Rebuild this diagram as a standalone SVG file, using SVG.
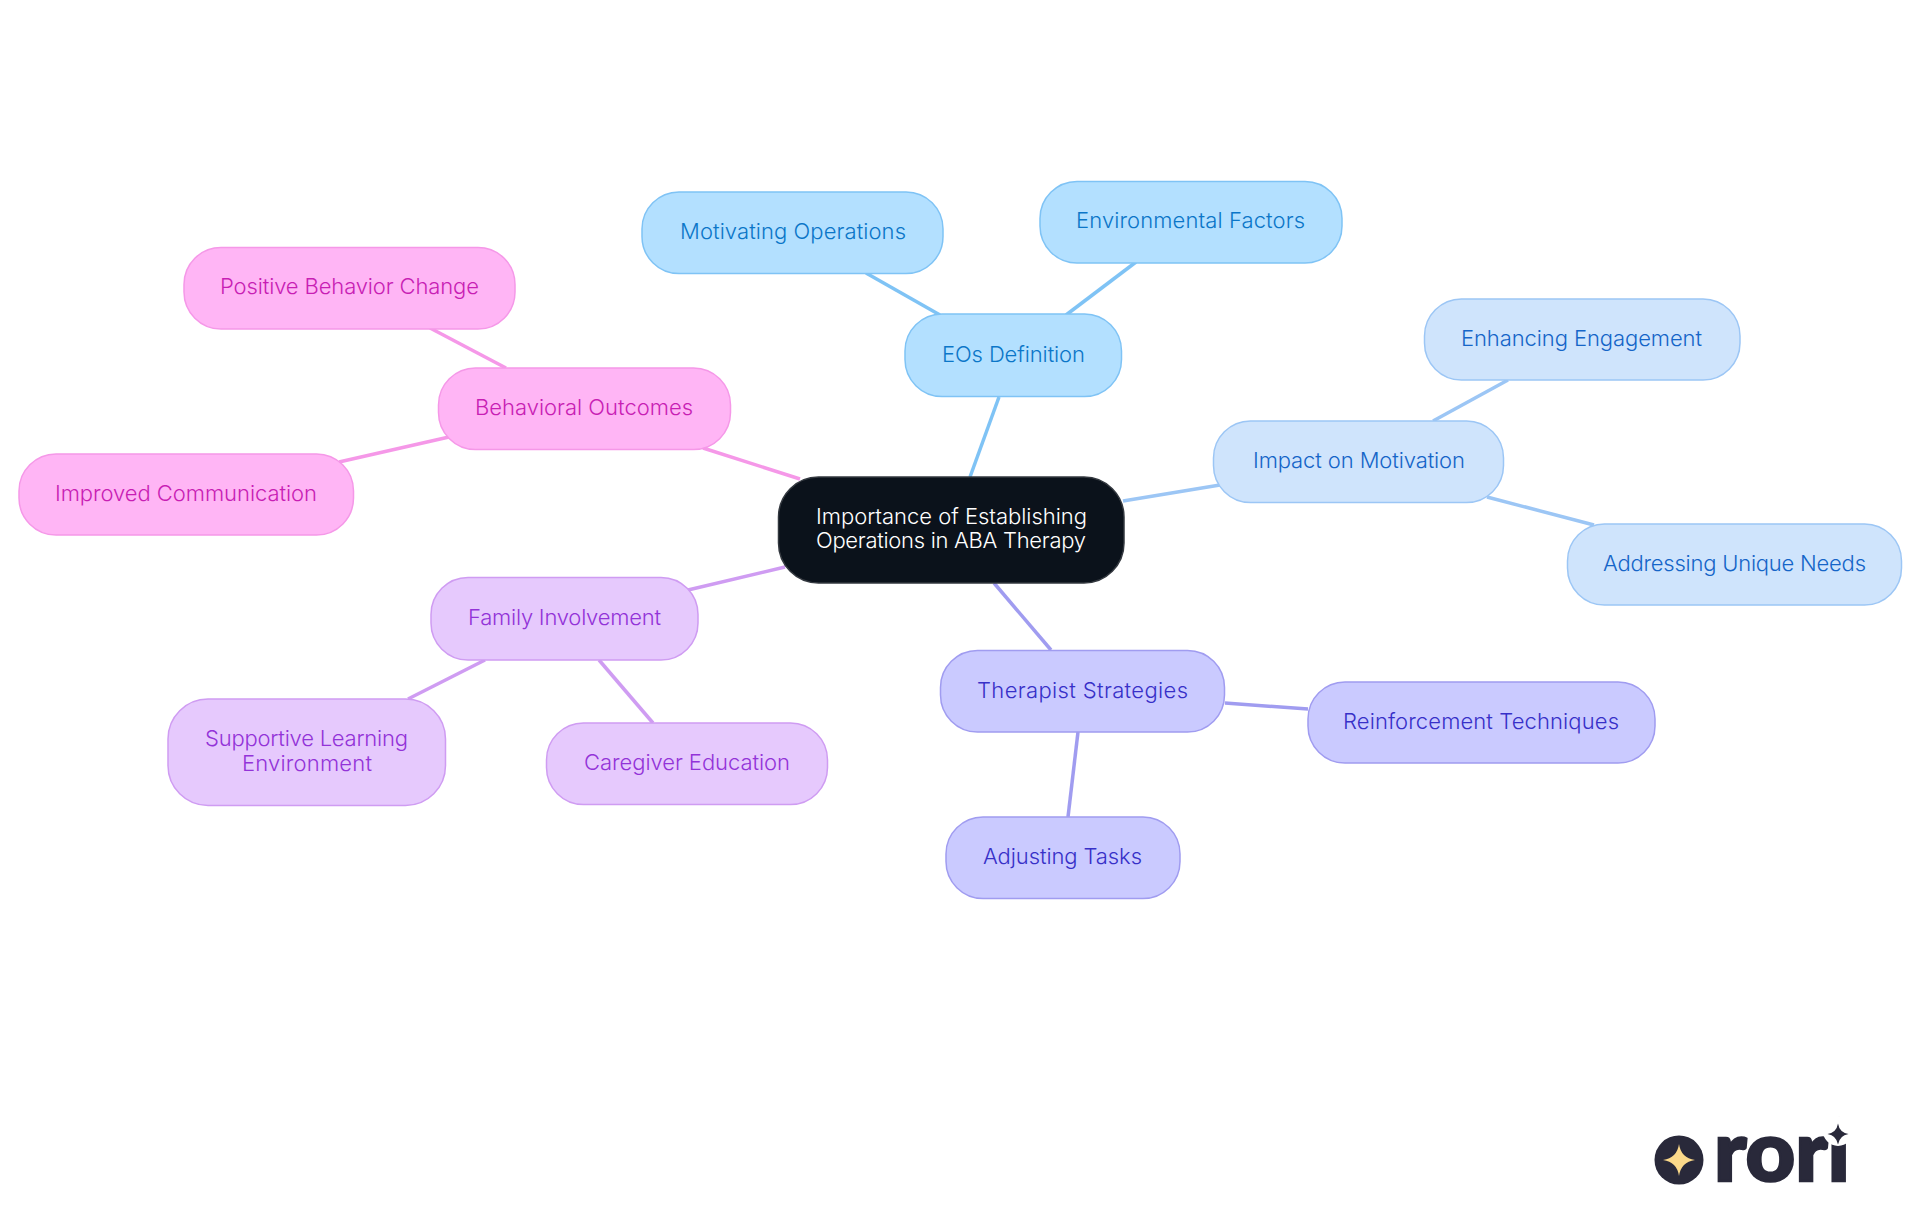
<svg xmlns="http://www.w3.org/2000/svg" width="1920" height="1215" viewBox="0 0 1920 1215">
<style>
text{font-family:Inter,"Noto Sans","Liberation Sans",sans-serif;font-size:22px;font-weight:350;text-anchor:start}
.c line{stroke-width:3.5;stroke-linecap:butt}
.n rect{stroke-width:1.5}
.blue rect{fill:#b3e0ff;stroke:#7fc3f5}.blue text{fill:#0b76c8}
.sky rect{fill:#cfe4fc;stroke:#9cc6f5}.sky text{fill:#1565c8}
.ind rect{fill:#cacaff;stroke:#a09cf0}.ind text{fill:#3730c8}
.pur rect{fill:#e6c9fd;stroke:#cf9cf2}.pur text{fill:#9333d8}
.pin rect{fill:#ffb5f5;stroke:#f598e8}.pin text{fill:#c81eb4}
#root rect{fill:#0b121b;stroke:#33383f}#root text{fill:#fff}
</style>
<rect width="1920" height="1215" fill="#fff"/>
<g id="connectors" class="c">
<g stroke="#7fc3f5"><line x1="970" y1="477" x2="999" y2="397"/><line x1="940" y1="315" x2="866" y2="273"/><line x1="1066" y1="315" x2="1136" y2="262"/></g>
<g stroke="#9cc6f5"><line x1="1123" y1="501" x2="1220" y2="485"/><line x1="1433" y1="421" x2="1508" y2="380"/><line x1="1487" y1="497" x2="1594" y2="525"/></g>
<g stroke="#a09cf0"><line x1="994" y1="583" x2="1051" y2="650"/><line x1="1225" y1="703" x2="1308" y2="709"/><line x1="1078" y1="732" x2="1068" y2="817"/></g>
<g stroke="#cf9cf2"><line x1="785" y1="567" x2="688" y2="590"/><line x1="485" y1="660" x2="408" y2="699"/><line x1="599" y1="660" x2="653" y2="723"/></g>
<g stroke="#f598e8"><line x1="800" y1="479" x2="703" y2="448"/><line x1="506" y1="368" x2="430" y2="328"/><line x1="449" y1="437" x2="339" y2="462"/></g>
</g>
<g id="root" class="n"><rect x="778.5" y="477" width="345.500" height="106" rx="40"/><text x="816" y="524" textLength="271">Importance of Establishing</text><text x="816" y="548" textLength="270">Operations in ABA Therapy</text></g>
<g id="eos" class="n blue"><rect x="905" y="314" width="216.500" height="82.500" rx="37"/><text x="942" y="362" textLength="143">EOs Definition</text></g>
<g id="motivating" class="n blue"><rect x="642" y="192" width="301" height="81.500" rx="37"/><text x="680" y="239" textLength="226">Motivating Operations</text></g>
<g id="environmental" class="n blue"><rect x="1040" y="181.500" width="302" height="81.500" rx="37"/><text x="1076" y="228" textLength="229">Environmental Factors</text></g>
<g id="impact" class="n sky"><rect x="1213.500" y="421" width="290" height="81.500" rx="37"/><text x="1253" y="468" textLength="212">Impact on Motivation</text></g>
<g id="enhancing" class="n sky"><rect x="1424.500" y="299" width="315.500" height="81" rx="37"/><text x="1461" y="346" textLength="241">Enhancing Engagement</text></g>
<g id="addressing" class="n sky"><rect x="1567.500" y="524" width="334" height="81" rx="37"/><text x="1603" y="571" textLength="263">Addressing Unique Needs</text></g>
<g id="therapist" class="n ind"><rect x="940.500" y="650.500" width="284" height="81.500" rx="37"/><text x="977" y="698" textLength="211">Therapist Strategies</text></g>
<g id="reinforcement" class="n ind"><rect x="1308" y="682" width="347" height="81" rx="37"/><text x="1343" y="729" textLength="276">Reinforcement Techniques</text></g>
<g id="adjusting" class="n ind"><rect x="946" y="817" width="234" height="81.500" rx="37"/><text x="983" y="864" textLength="159">Adjusting Tasks</text></g>
<g id="family" class="n pur"><rect x="431" y="577.500" width="267" height="82.500" rx="37"/><text x="468" y="625" textLength="193">Family Involvement</text></g>
<g id="supportive" class="n pur"><rect x="168" y="699" width="277.500" height="106.500" rx="40"/><text x="205" y="746" textLength="203">Supportive Learning</text><text x="242" y="771" textLength="130">Environment</text></g>
<g id="caregiver" class="n pur"><rect x="546.500" y="723" width="281" height="81.500" rx="37"/><text x="584" y="770" textLength="206">Caregiver Education</text></g>
<g id="behavioral" class="n pin"><rect x="438.500" y="368" width="292" height="81.500" rx="37"/><text x="475" y="415" textLength="218">Behavioral Outcomes</text></g>
<g id="positive" class="n pin"><rect x="184" y="247.500" width="331" height="81.500" rx="37"/><text x="220" y="294" textLength="259">Positive Behavior Change</text></g>
<g id="improved" class="n pin"><rect x="19" y="454" width="334.500" height="81" rx="37"/><text x="55" y="501" textLength="262">Improved Communication</text></g>
<g id="logo">
<circle cx="1679" cy="1160" r="24.500" fill="#29293a"/>
<path d="M1679 1144Q1681 1158 1695 1160Q1681 1162 1679 1176Q1677 1162 1663 1160Q1677 1158 1679 1144Z" fill="#fbd98a"/>
<text x="1714" y="1181" textLength="136" lengthAdjust="spacingAndGlyphs" style="font-family:Lato,'Liberation Sans',sans-serif;font-weight:900;font-size:84px;fill:#29293a;stroke:#29293a;stroke-width:2.500">rori</text>
<circle cx="1838" cy="1131" r="15" fill="#fff"/>
<path d="M1838 1123.500Q1839.500 1132.500 1848.500 1134Q1839.500 1135.500 1838 1144.500Q1836.500 1135.500 1827.500 1134Q1836.500 1132.500 1838 1123.500Z" fill="#29293a"/>
</g>
</svg>
